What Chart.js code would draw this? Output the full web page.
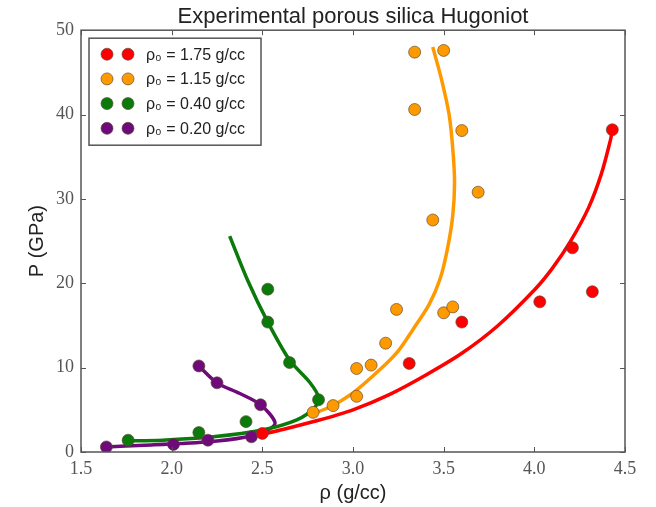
<!DOCTYPE html>
<html><head><meta charset="utf-8">
<script src="https://cdn.jsdelivr.net/npm/chart.js"></script>
<style>html,body{margin:0;padding:0;background:#fff}</style>
</head><body>
<canvas id="c" width="656" height="507" style="display:block;width:656px;height:507px"></canvas>
<script>
// ---- data ----
const seriesLabels = ['ρ₀ = 1.75 g/cc', 'ρ₀ = 1.15 g/cc', 'ρ₀ = 0.40 g/cc', 'ρ₀ = 0.20 g/cc'];
const xTicks = [1.5, 2.0, 2.5, 3.0, 3.5, 4.0, 4.5];
const yTicks = [0, 10, 20, 30, 40, 50];

// measured points
const redX = [2.50, 3.31, 3.60, 4.03, 4.21, 4.32, 4.43];
const redP = [2.2, 10.5, 15.4, 17.8, 24.2, 19.0, 38.2];
const orangeX = [2.78, 2.89, 3.02, 3.02, 3.10, 3.18, 3.24, 3.34, 3.34, 3.44, 3.50, 3.50, 3.55, 3.60, 3.69];
const orangeP = [4.7, 5.5, 6.6, 9.9, 10.3, 12.9, 16.9, 47.4, 40.6, 27.5, 47.6, 16.5, 17.2, 38.1, 30.8];
const greenX = [1.76, 2.15, 2.41, 2.53, 2.53, 2.65, 2.81];
const greenP = [1.4, 2.3, 3.6, 19.3, 15.4, 10.6, 6.2];
const purpleX = [1.64, 2.01, 2.20, 2.44, 2.15, 2.25, 2.49];
const purpleP = [0.6, 0.9, 1.4, 1.8, 10.2, 8.2, 5.6];

// fitted Hugoniot curves
const redFitX = [2.48, 2.6, 2.8, 3.0, 3.2, 3.4, 3.6, 3.8, 4.0, 4.1, 4.2, 4.3, 4.37, 4.42, 4.43];
const redFitP = [2.0, 2.6, 3.7, 5.0, 6.8, 9.1, 11.7, 15.0, 19.2, 21.8, 25.0, 29.0, 33.0, 37.0, 38.2];
const orangeFitX = [2.76, 2.87, 3.0, 3.15, 3.25, 3.33, 3.42, 3.48, 3.52, 3.55, 3.56, 3.55, 3.53, 3.49, 3.44];
const orangeFitP = [4.4, 5.3, 7.0, 9.8, 12.0, 14.5, 17.5, 20.5, 24.0, 28.0, 32.0, 36.0, 40.0, 44.0, 48.0];
const greenFitX = [1.73, 1.95, 2.23, 2.50, 2.69, 2.79, 2.81, 2.76, 2.65, 2.53, 2.42, 2.32];
const greenFitP = [1.3, 1.4, 1.8, 2.6, 3.8, 5.3, 6.5, 8.3, 10.9, 15.4, 20.3, 25.6];
const purpleFitX = [1.64, 1.85, 2.05, 2.25, 2.44, 2.53, 2.57, 2.49, 2.37, 2.25, 2.15];
const purpleFitP = [0.6, 0.8, 1.0, 1.3, 1.9, 2.6, 3.5, 5.6, 7.0, 8.2, 10.2];

const colors = ['#ff0000', '#ff9900', '#0a7a0a', '#6e0a7a'];

const zip = (xs, ys) => xs.map((x, i) => ({x: x, y: ys[i]}));
const pointSets = [zip(redX, redP), zip(orangeX, orangeP), zip(greenX, greenP), zip(purpleX, purpleP)];
const fitSets = [zip(redFitX, redFitP), zip(orangeFitX, orangeFitP), zip(greenFitX, greenFitP), zip(purpleFitX, purpleFitP)];

const datasets = [];
fitSets.forEach((d, i) => datasets.push({
  label: seriesLabels[i] + ' fit', data: d, showLine: true, borderColor: colors[i],
  borderWidth: 3.5, pointRadius: 0, tension: 0.3, fill: false, order: 2
}));
pointSets.forEach((d, i) => datasets.push({
  label: seriesLabels[i], data: d, showLine: false, backgroundColor: colors[i],
  borderColor: 'rgba(90,70,50,0.65)', borderWidth: 1, pointRadius: 6, order: 0
}));

const framePlugin = {
  id: 'frame',
  afterDatasetsDraw(chart) {
    const {ctx, chartArea: a, scales: {x, y}} = chart;
    ctx.save();
    ctx.strokeStyle = '#555';
    ctx.lineWidth = 1.5;
    ctx.strokeRect(a.left, a.top, a.right - a.left, a.bottom - a.top);
    ctx.lineWidth = 1;
    ctx.beginPath();
    xTicks.forEach(v => {
      const px = Math.round(x.getPixelForValue(v)) + 0.5;
      ctx.moveTo(px, a.bottom); ctx.lineTo(px, a.bottom - 5);
      ctx.moveTo(px, a.top); ctx.lineTo(px, a.top + 5);
    });
    yTicks.forEach(v => {
      const py = Math.round(y.getPixelForValue(v)) + 0.5;
      ctx.moveTo(a.left, py); ctx.lineTo(a.left + 5, py);
      ctx.moveTo(a.right, py); ctx.lineTo(a.right - 5, py);
    });
    ctx.stroke();

    // legend
    const lx = a.left + 8, ly = a.top + 8, lw = 172, lh = 107;
    ctx.fillStyle = '#fff';
    ctx.fillRect(lx, ly, lw, lh);
    ctx.strokeStyle = '#555';
    ctx.lineWidth = 1.5;
    ctx.strokeRect(lx, ly, lw, lh);
    seriesLabels.forEach((lab, i) => {
      const cy = ly + 16 + i * 24.7;
      [lx + 18, lx + 39].forEach(cx => {
        ctx.beginPath();
        ctx.arc(cx, cy, 6, 0, Math.PI * 2);
        ctx.fillStyle = colors[i];
        ctx.fill();
        ctx.strokeStyle = 'rgba(90,70,50,0.65)';
        ctx.lineWidth = 1;
        ctx.stroke();
      });
      ctx.fillStyle = '#222';
      ctx.font = '16px "Liberation Sans", Arial, sans-serif';
      ctx.textBaseline = 'middle';
      ctx.textAlign = 'left';
      ctx.fillText(lab, lx + 57, cy + 1);
    });
    ctx.restore();
  }
};

new Chart(document.getElementById('c'), {
  type: 'scatter',
  data: {datasets: datasets},
  options: {
    responsive: false,
    animation: false,
    devicePixelRatio: 1,
    layout: {padding: {left: 0, right: 31, top: 0, bottom: 0}},
    plugins: {
      legend: {display: false},
      tooltip: {enabled: false},
      title: {
        display: true, fullSize: false, text: 'Experimental porous silica Hugoniot', color: '#222',
        font: {family: '"Liberation Sans", Arial, sans-serif', size: 22, weight: 'normal', lineHeight: 1.1},
        padding: {top: 5, bottom: 1}
      }
    },
    scales: {
      x: {
        type: 'linear', min: 1.5, max: 4.5,
        afterBuildTicks(s) { s.ticks = xTicks.map(v => ({value: v})); },
        ticks: {callback: v => v.toFixed(1), color: '#555', padding: 6, maxRotation: 0, autoSkip: false,
          font: {family: '"Liberation Serif", "DejaVu Serif", serif', size: 18}},
        grid: {display: false, drawTicks: false},
        border: {display: false},
        title: {display: true, text: 'ρ (g/cc)', color: '#222',
          font: {family: '"Liberation Sans", Arial, sans-serif', size: 20}, padding: {top: 0, bottom: 2}},
        afterFit(s) { s.height = 55; }
      },
      y: {
        type: 'linear', min: 0, max: 50,
        afterBuildTicks(s) { s.ticks = yTicks.map(v => ({value: v})); },
        ticks: {callback: v => String(v), color: '#555', padding: 7,
          font: {family: '"Liberation Serif", "DejaVu Serif", serif', size: 18}},
        grid: {display: false, drawTicks: false},
        border: {display: false},
        title: {display: true, text: 'P (GPa)', color: '#222',
          font: {family: '"Liberation Sans", Arial, sans-serif', size: 20}, padding: {top: 25, bottom: 0}},
        afterFit(s) { s.width = 81; }
      }
    }
  },
  plugins: [framePlugin]
});
</script>
</body></html>
